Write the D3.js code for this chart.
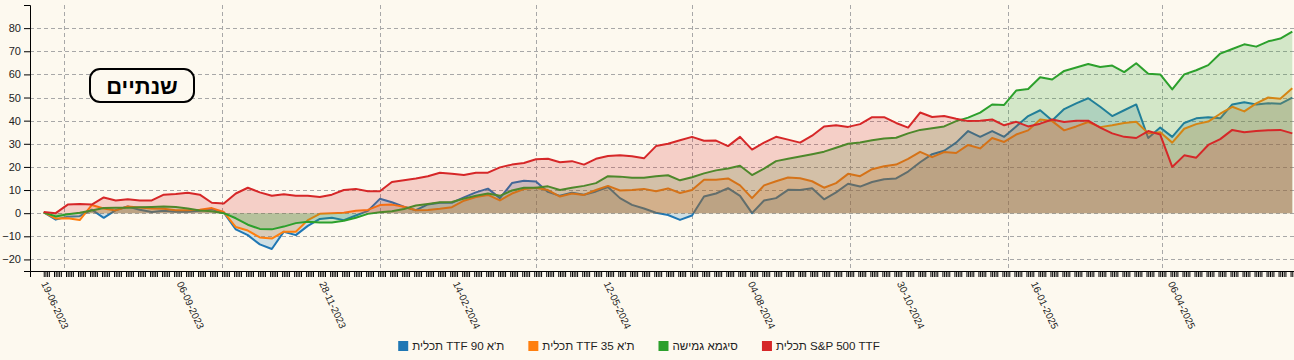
<!DOCTYPE html>
<html>
<head>
<meta charset="utf-8">
<script src="https://cdn.jsdelivr.net/npm/d3@7"></script>
<style>
html, body { margin: 0; padding: 0; background: #fdf9ef; }
svg { display: block; font-family: "Liberation Sans", Arial, sans-serif; }
</style>
</head>
<body>
<svg id="chart" width="1294" height="360"></svg>
<script>
// ---------------- DATA ----------------
const dates = [
  "2023-06-19","2023-06-26","2023-07-03","2023-07-10","2023-07-17","2023-07-24","2023-07-31","2023-08-07","2023-08-14","2023-08-21",
  "2023-08-28","2023-09-04","2023-09-11","2023-09-18","2023-09-25","2023-10-02","2023-10-09","2023-10-16","2023-10-23","2023-10-30",
  "2023-11-06","2023-11-13","2023-11-20","2023-11-27","2023-12-04","2023-12-11","2023-12-18","2023-12-25",
  "2024-01-01","2024-01-08","2024-01-15","2024-01-22","2024-01-29","2024-02-05","2024-02-12","2024-02-19","2024-02-26","2024-03-04",
  "2024-03-11","2024-03-18","2024-03-25","2024-04-01","2024-04-08","2024-04-15","2024-04-22","2024-04-29","2024-05-06","2024-05-13",
  "2024-05-20","2024-05-27","2024-06-03","2024-06-10","2024-06-17","2024-06-24","2024-07-01","2024-07-08","2024-07-15","2024-07-22",
  "2024-07-29","2024-08-05","2024-08-12","2024-08-19","2024-08-26","2024-09-02","2024-09-09","2024-09-16","2024-09-23","2024-09-30",
  "2024-10-07","2024-10-14","2024-10-21","2024-10-28","2024-11-04","2024-11-11","2024-11-18","2024-11-25","2024-12-02","2024-12-09",
  "2024-12-16","2024-12-23","2024-12-30",
  "2025-01-06","2025-01-13","2025-01-20","2025-01-27","2025-02-03","2025-02-10","2025-02-17","2025-02-24","2025-03-03","2025-03-10",
  "2025-03-17","2025-03-24","2025-03-31","2025-04-07","2025-04-14","2025-04-21","2025-04-28","2025-05-05","2025-05-12","2025-05-19",
  "2025-05-26","2025-06-02","2025-06-09","2025-06-16"
];

const seriesNames = ["תכלית TTF ת'א 90", "תכלית TTF ת'א 35", "סיגמא גמישה", "תכלית S&P 500 TTF"];
const seriesColors = ["#1f77b4", "#ff7f0e", "#2ca02c", "#d62728"];

const ta90 = [
  0.3, -2.8, -1.5, -1.3, 1.5, -2, 1.3, 2.9, 1.5, 0.5, 1, 0.6, 0.6, 1, 1.8, 0.2, -7, -9.5, -13.5, -15.5,
  -8, -9.5, -5.5, -2.5, -2, -3, -1, 1, 6.2, 4.7, 2.8, 1.3, 3.8, 4.5,
  4.5, 6.8, 9, 10.6, 6.5, 13, 14, 13.7, 9.2, 7.5, 8.8, 8, 9.4, 11.3, 6.5, 3.6, 2, 0.2, -0.8, -2.9,
  -1, 7.2, 8.5, 10.8, 7.5, 0, 5.5, 6.5, 10.1, 10, 10.8, 6, 9, 12.7, 11.5, 13.5,
  14.7, 15, 18, 22, 25.5, 27, 30.5, 35.5, 33, 35.5, 33, 37.5, 42, 44.5, 40.1, 45, 47.5, 49.7, 46, 42,
  44.5, 47, 32.5, 37, 33, 39, 41, 41.5, 41, 47, 48, 47, 47.5, 47.3, 50
];
const ta35 = [
  0.3, -2.3, -2.2, -3, 3.5, 2, 1.2, 2.9, 2.5, 2, 1.9, 1.3, 1.3, 1.5, 2.2, 0.5, -6, -7.5, -10.5, -11,
  -8, -8, -3, -0.3, 0, 0.2, 1, 1.4, 3.5, 3.7, 2.8, 1.3, 1.4, 1.9,
  2.6, 5.4, 7, 7.9, 5.5, 8.5, 10.4, 11, 10, 7.2, 8.5, 7.9, 10, 11.8, 9.8, 10, 10.5, 9.5, 10.7, 8.7,
  10, 14.5, 14.5, 15, 12, 6.5, 12, 13.8, 15.4, 15.1, 13.8, 11, 13, 17, 16, 19,
  20.3, 21, 23.5, 26.5, 24.2, 26.4, 26, 29.5, 28, 32.5, 30.8, 34, 35.8, 40.5, 39.8, 35.8, 37.5, 39.4, 37.2, 38,
  39, 39.5, 34.5, 35, 30.5, 36.5, 38.5, 39.6, 43, 46, 44, 47.5, 50, 49.5, 54
];
const sigma = [
  0.3, -1.4, -0.5, 0.2, 1.2, 2.2, 2.3, 2.3, 2.6, 2.7, 2.9, 2.7, 2.0, 1.2, 0.8, 0, -2.2, -5, -6.8, -7,
  -5.8, -4.3, -3.7, -4, -4, -3.3, -2, -0.3, 0.4, 0.8, 1.8, 3.3, 4, 4.7,
  4.8, 6.3, 7.5, 8.5, 7.5, 9.8, 11, 11, 11.6, 10, 11, 11.8, 13, 16, 15.8, 15.3, 15.3, 16, 16.4, 14.2,
  15.5, 17.2, 18.5, 19.3, 20.5, 16.5, 19.3, 22.5, 23.5, 24.5, 25.5, 26.6, 28.3, 30, 30.6, 31.5,
  32.3, 32.6, 34.5, 36, 36.7, 37.5, 39.8, 41.3, 43.5, 47, 46.8, 53, 53.7, 58.8, 57.8, 61.5, 63, 64.5, 63.2, 63.8,
  61, 64.8, 60.3, 60, 53.5, 60, 61.8, 64, 69, 71, 73, 72, 74.3, 75.5, 78.5
];
const sp500 = [
  0.5, 0, 3.7, 4, 3.7, 6.8, 5.5, 6, 5.5, 5.5, 8, 8.3, 8.8, 8, 4.5, 4.2, 8.5, 11, 9, 7.5,
  8.2, 7.5, 7.5, 7, 8, 10, 10.5, 9.5, 9.5, 13.5, 14.2, 15, 16, 17.5,
  17, 16.5, 17.5, 17.5, 19.8, 21, 21.7, 23.3, 23.5, 22, 22.5, 21, 23.5, 24.7, 25, 24.6, 23.7, 29, 30, 31.5,
  33, 31.3, 31.4, 29, 33, 27.5, 30.5, 33, 31.8, 30.5, 33.5, 37.5, 38, 37.3, 38.5, 41.5,
  41.5, 39, 37, 43.5, 41.6, 42, 40.8, 39.8, 40, 40.5, 38, 39.5, 37.5, 38.7, 40.5, 39.4, 40, 40, 37, 34.5,
  33, 32.5, 35.5, 34, 20, 25, 24, 29.5, 32, 36, 35, 35.5, 35.8, 36, 34.5
];

const yTicks = [-20, -10, 0, 10, 20, 30, 40, 50, 60, 70, 80];
const xTickLabels = ["19-06-2023","06-09-2023","28-11-2023","14-02-2024","12-05-2024","04-08-2024","30-10-2024","16-01-2025","06-04-2025"];
const titleText = "שנתיים";

// ---------------- CHART ----------------
(function () {
const parse = d3.timeParse("%Y-%m-%d");
const fmt = d3.timeFormat("%d-%m-%Y");
const dateObjs = dates.map(parse);
const allSeries = [ta90, ta35, sigma, sp500];

const svg = d3.select("#chart");
const mLeft = 30, mRight = 1294, mTop = 5, mBottom = 271;

const x = d3.scaleTime()
  .domain([parse("2023-06-11"), parse("2025-06-17")])
  .range([mLeft, mRight]);
const y = d3.scaleLinear().domain([-25, 90]).range([mBottom, mTop]);

// grid
const grid = svg.append("g").attr("stroke", "#a8a8a8").attr("stroke-dasharray", "4,3").attr("stroke-width", 1);
grid.selectAll("line.h").data(yTicks).join("line").attr("class", "h")
  .attr("x1", mLeft).attr("x2", mRight)
  .attr("y1", d => Math.round(y(d)) + 0.5).attr("y2", d => Math.round(y(d)) + 0.5);
grid.selectAll("line.v").data(x.ticks(d3.timeMonth.every(3))).join("line").attr("class", "v")
  .attr("x1", d => Math.round(x(d)) + 0.5).attr("x2", d => Math.round(x(d)) + 0.5)
  .attr("y1", mTop).attr("y2", mBottom);

// series
const area = d3.area().x(d => x(d.date)).y0(y(0)).y1(d => y(d.v));
const line = d3.line().x(d => x(d.date)).y(d => y(d.v));
allSeries.forEach((vals, i) => {
  const pts = vals.map((v, j) => ({ date: dateObjs[j], v }));
  svg.append("path").datum(pts).attr("d", area)
    .attr("fill", seriesColors[i]).attr("fill-opacity", 0.2).attr("stroke", "none");
  svg.append("path").datum(pts).attr("d", line)
    .attr("fill", "none").attr("stroke", seriesColors[i]).attr("stroke-width", 2)
    .attr("stroke-linejoin", "round");
});

// axes
const tradingDays = d3.timeDays(dateObjs[0], d3.timeDay.offset(dateObjs[dateObjs.length - 1], 1))
  .filter(d => d.getDay() !== 5 && d.getDay() !== 6);
const labelSet = new Set(xTickLabels);

const xAxis = svg.append("g").attr("transform", `translate(0,${mBottom})`)
  .call(d3.axisBottom(x).tickValues(tradingDays).tickSize(6)
    .tickFormat(d => labelSet.has(fmt(d)) ? fmt(d) : ""));
xAxis.selectAll("text")
  .attr("x", 0).attr("y", 0).attr("dy", "0.35em")
  .attr("transform", "translate(0,11) rotate(65)")
  .style("text-anchor", "start")
  .attr("font-size", 10).attr("fill", "#222");
xAxis.select(".domain").attr("stroke", "#000");
xAxis.selectAll(".tick line").attr("stroke", "#000");

const yAxis = svg.append("g").attr("transform", `translate(${mLeft},0)`)
  .call(d3.axisLeft(y).tickValues(yTicks));
yAxis.selectAll("text").attr("font-size", 11).attr("fill", "#222");
yAxis.select(".domain").attr("stroke", "#000");

// title box
const tb = svg.append("g");
tb.append("rect").attr("x", 90).attr("y", 69).attr("width", 104).attr("height", 33)
  .attr("rx", 10).attr("ry", 10).attr("fill", "#fdf9ef").attr("stroke", "#000").attr("stroke-width", 2);
tb.append("text").attr("x", 142).attr("y", 86).attr("dy", "0.36em")
  .attr("text-anchor", "middle").attr("font-size", 22).attr("font-weight", "bold").attr("fill", "#000")
  .text(titleText);

// legend
const legend = svg.append("g");
const items = seriesNames.map((name, i) => {
  const g = legend.append("g");
  g.append("rect").attr("width", 10).attr("height", 10).attr("y", -5).attr("fill", seriesColors[i]);
  const t = g.append("text").attr("x", 14).attr("dy", "0.35em").attr("font-size", 11.6).attr("fill", "#222").text(name);
  return { g, w: 14 + t.node().getComputedTextLength() };
});
const gap = 24;
const total = d3.sum(items, d => d.w) + gap * (items.length - 1);
let cx = 639 - total / 2;
items.forEach(it => { it.g.attr("transform", `translate(${cx},346)`); cx += it.w + gap; });
})();
</script>
</body>
</html>
